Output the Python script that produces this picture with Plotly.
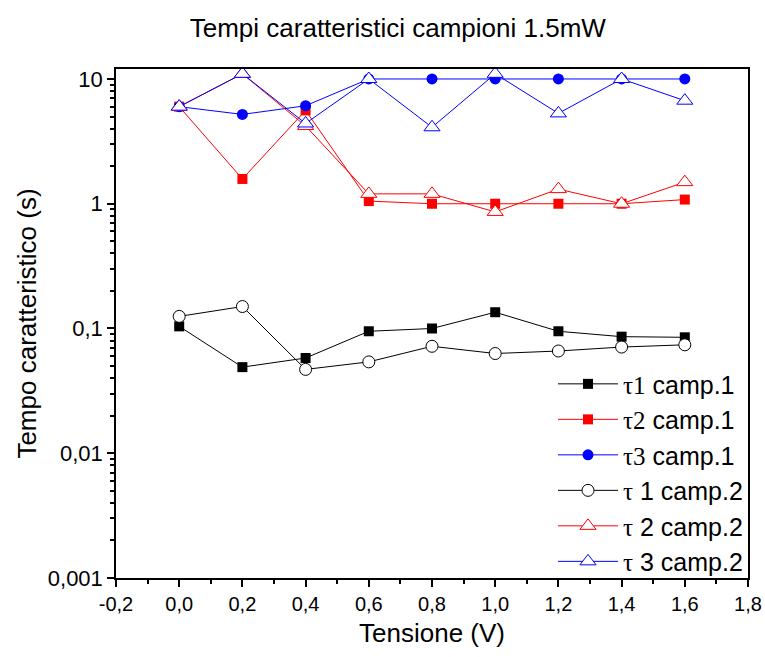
import plotly.graph_objects as go

tensione = [0.0, 0.2, 0.4, 0.6, 0.8, 1.0, 1.2, 1.4, 1.6]

tau1_camp1 = [0.104, 0.049, 0.058, 0.095, 0.100, 0.135, 0.095, 0.086, 0.085]
tau2_camp1 = [6.0, 1.58, 5.6, 1.05, 1.0, 1.0, 1.0, 1.0, 1.08]
tau3_camp1 = [6.0, 5.2, 6.1, 10.0, 10.0, 10.0, 10.0, 10.0, 10.0]
tau1_camp2 = [0.125, 0.150, 0.047, 0.054, 0.072, 0.063, 0.066, 0.071, 0.074]
tau2_camp2 = [6.0, 11.0, 4.2, 1.2, 1.2, 0.86, 1.31, 1.0, 1.49]
tau3_camp2 = [6.0, 11.0, 4.4, 10.0, 4.1, 11.0, 5.3, 10.0, 6.7]

x_ticks = [-0.2, 0.0, 0.2, 0.4, 0.6, 0.8, 1.0, 1.2, 1.4, 1.6, 1.8]
x_ticktext = ["-0,2", "0,0", "0,2", "0,4", "0,6", "0,8", "1,0", "1,2", "1,4", "1,6", "1,8"]
y_ticks = [0.001, 0.01, 0.1, 1, 10]
y_ticktext = ["0,001", "0,01", "0,1", "1", "10"]

serif = "font-family:'Liberation Serif'"
series = [
    (tau1_camp1, f"<span style=\"{serif}\">τ1</span> camp.1", "black", "square", "black", 10),
    (tau2_camp1, f"<span style=\"{serif}\">τ2</span> camp.1", "red", "square", "red", 10),
    (tau3_camp1, f"<span style=\"{serif}\">τ3</span> camp.1", "blue", "circle", "blue", 11),
    (tau1_camp2, f"<span style=\"{serif}\">τ</span> 1 camp.2", "black", "circle-open", "black", 12),
    (tau2_camp2, f"<span style=\"{serif}\">τ</span> 2 camp.2", "red", "triangle-up-open", "red", 14),
    (tau3_camp2, f"<span style=\"{serif}\">τ</span> 3 camp.2", "blue", "triangle-up-open", "blue", 14),
]

fig = go.Figure()
for ys, name, col, sym, mcol, size in series:
    if sym.endswith("open"):
        marker = dict(symbol=sym.replace("-open", ""), size=size, color="white",
                      line=dict(color=mcol, width=1))
    else:
        marker = dict(symbol=sym, size=size, color=mcol, line=dict(width=0))
    fig.add_trace(go.Scatter(x=tensione, y=ys, mode="lines+markers", name=name,
                             line=dict(color=col, width=1), marker=marker))

minor_y = []
for d in [0.001, 0.01, 0.1, 1]:
    for k in range(2, 10):
        minor_y.append(d * k)
minor_x = [round(-0.1 + 0.2 * i, 2) for i in range(10)]

fig.update_layout(
    width=765, height=657,
    paper_bgcolor="white", plot_bgcolor="white",
    margin=dict(l=116, r=17, t=69, b=79),
    font=dict(family="Liberation Sans, Arial", color="black", size=20),
    title=dict(text="Tempi caratteristici campioni 1.5mW", x=0.52, xanchor="center",
               y=0.958, yanchor="middle", font=dict(size=26)),
    showlegend=True,
    legend=dict(x=1.0, y=-0.012, xanchor="right", yanchor="bottom",
                bgcolor="rgba(0,0,0,0)", font=dict(size=25), tracegroupgap=0,
                itemwidth=60),
)
fig.update_xaxes(
    range=[-0.2, 1.8], tickvals=x_ticks, ticktext=x_ticktext,
    ticks="outside", ticklen=7, tickwidth=1.5, tickcolor="black",
    showline=True, linecolor="black", linewidth=1.5, mirror=True,
    showgrid=False, zeroline=False, tickfont=dict(size=20),
    ticklabeloverflow="allow", automargin="bottom",
    minor=dict(tickvals=minor_x, ticks="outside", ticklen=4, tickcolor="black", tickwidth=1.5),
    title=dict(text="Tensione (V)", font=dict(size=26), standoff=10),
)
fig.update_yaxes(
    type="log", range=[-3, 1.08], tickvals=y_ticks, ticktext=y_ticktext,
    ticks="outside", ticklen=7, tickwidth=1.5, tickcolor="black",
    showline=True, linecolor="black", linewidth=1.5, mirror=True,
    showgrid=False, zeroline=False, tickfont=dict(size=22),
    ticklabeloverflow="allow", automargin="left",
    minor=dict(tickvals=minor_y, ticks="outside", ticklen=4, tickcolor="black", tickwidth=1.5),
    title=dict(text="Tempo caratteristico (s)", font=dict(size=26), standoff=4),
)

fig.write_html("out.html")
